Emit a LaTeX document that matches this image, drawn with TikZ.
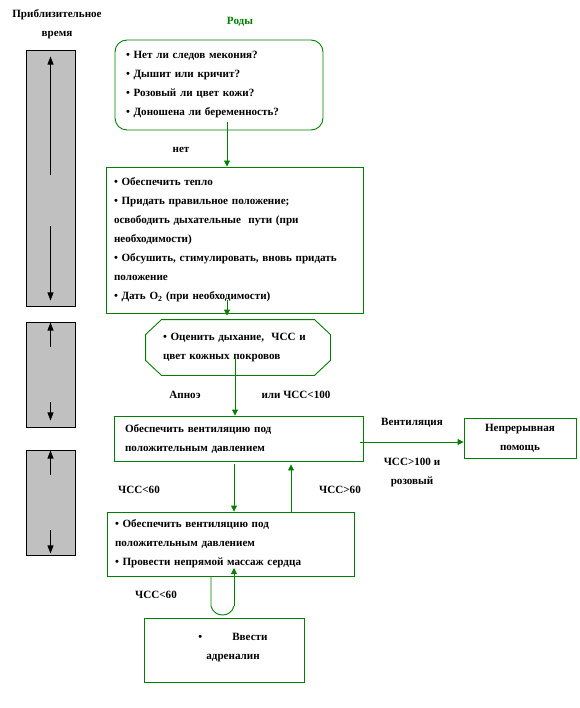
\documentclass[tikz,border=0pt]{standalone}
\usepackage{fontspec}
\setmainfont{Liberation Serif}
\usetikzlibrary{arrows.meta}
\definecolor{grn}{HTML}{008000}
\definecolor{barg}{HTML}{C0C0C0}
\tikzset{
  txt/.style={font=\bfseries\fontsize{11.1}{19}\selectfont, inner sep=0pt},
  gbox/.style={draw=grn, line width=0.9pt, inner sep=0pt, font=\bfseries\fontsize{11.1}{19}\selectfont},
  timebar/.style={draw=black, line width=0.9pt, fill=barg, inner sep=0pt, minimum width=49pt},
  arr/.style={draw=grn, line width=0.9pt, -{Triangle[width=6pt,length=6pt]}},
  plain/.style={draw=grn, line width=0.9pt},
  barr/.style={draw=black, line width=0.7pt, -{Triangle[width=6pt,length=8pt]}}
}
\begin{document}
\begin{tikzpicture}[x=1pt,y=-1pt]
\useasboundingbox (0,0) rectangle (579,708);
% time labels
\node[txt, align=center] (tlab) at (57,24) {Приблизительное\\время};
% time bars
\node[timebar, minimum height=256pt] (bar1) at (50.5,178) {};
\node[timebar, minimum height=105pt] (bar2) at (50.5,374.5) {};
\node[timebar, minimum height=105pt] (bar3) at (50.5,502.5) {};
\draw[barr] ([yshift=-125pt]bar1.north) -- ([yshift=-7pt]bar1.north);
\draw[barr] ([yshift=80pt]bar1.south) -- ([yshift=6pt]bar1.south);
\draw[barr] ([yshift=-25pt]bar2.north) -- ([yshift=-1pt]bar2.north);
\draw[barr] ([yshift=25pt]bar2.south) -- ([yshift=7pt]bar2.south);
\draw[barr] ([yshift=-25pt]bar3.north) -- ([yshift=-1pt]bar3.north);
\draw[barr] ([yshift=25pt]bar3.south) -- ([yshift=2pt]bar3.south);
% title
\node[txt, text=grn] (rody) at (240,22) {Роды};
% box1
\node[gbox, rounded corners=12pt, minimum width=208pt, minimum height=90pt,
      text width=186pt, align=left] (b1) at (219,85)
  {• Нет ли следов мекония?\\• Дышит или кричит?\\• Розовый ли цвет кожи?\\• Доношена ли беременность?};
\node[txt] (net) at (181,150) {нет};
% box2
\node[gbox, minimum width=257pt, minimum height=146pt,
      text width=241pt, align=left] (b2) at (234.5,240)
  {• Обеспечить тепло\\• Придать правильное положение;\\освободить дыхательные \ пути (при\\необходимости)\\• Обсушить, стимулировать, вновь придать\\положение\\• Дать O\textsubscript{2} (при необходимости)};
% octagon
\node[gbox, draw=none, minimum width=184pt, minimum height=55pt, text width=150pt, align=left] (oct) at (238,347.5)
  {• Оценить дыхание, \ ЧСС и\\цвет кожных покровов};
\draw[plain] ([xshift=16pt]oct.north west) -- ([xshift=-16pt]oct.north east)
  -- ([yshift=-15pt]oct.north east) -- ([yshift=15pt]oct.south east)
  -- ([xshift=-16pt]oct.south east) -- ([xshift=16pt]oct.south west)
  -- ([yshift=15pt]oct.south west) -- ([yshift=-15pt]oct.north west) -- cycle;
\node[txt] (apnoe) at (185,395) {Апноэ};
\node[txt] (ili) at (296,395) {или ЧСС<100};
% box3
\node[gbox, minimum width=249pt, minimum height=45pt, text width=227pt, align=left] (b3) at (238.5,438.5)
  {Обеспечить вентиляцию под\\положительным давлением};
% box4
\node[gbox, minimum width=112pt, minimum height=40pt, align=center] (b4) at (520,438)
  {Непрерывная\\помощь};
\node[txt] (vent) at (412,423) {Вентиляция};
\node[txt, align=center] (hr100) at (412,472) {ЧСС>100 и\\розовый};
% box5
\node[gbox, minimum width=247pt, minimum height=64pt, text width=231pt, align=left] (b5) at (230.5,544)
  {• Обеспечить вентиляцию под\\положительным давлением\\• Провести непрямой массаж сердца};
\node[txt] (hr60a) at (139,490) {ЧСС<60};
\node[txt] (hr60b) at (340,490) {ЧСС>60};
\node[txt] (hr60c) at (156,595) {ЧСС<60};
% box6
\node[gbox, minimum width=160pt, minimum height=64pt] (b6) at (224,650) {};
\node[txt, align=center] (b6t) at (233,648) {•\hspace{30pt}Ввести\\адреналин};
% connectors
\coordinate (c1) at (227,122);
\draw[arr] (c1) -- (c1 |- b2.north);
\coordinate (c2) at (227,300);
\draw[arr] (c2) -- ([yshift=4pt]c2 |- oct.north);
\coordinate (c3) at (235,357);
\draw[arr] (c3) -- (c3 |- b3.north);
\coordinate (c4) at (360,442);
\draw[arr] (c4) -- (c4 -| b4.west);
\coordinate (c5) at (234,464);
\draw[arr] (c5) -- (c5 |- b5.north);
\coordinate (c6) at (291,512);
\draw[arr] (c6) -- ([yshift=-3pt]c6 |- b3.south);
\coordinate (l1) at (211,576);
\coordinate (l2) at (211,606);
\coordinate (l3) at (234,606);
\coordinate (l4) at (234,568);
\draw[plain] (l1) -- (l2) .. controls (214,618) and (231,618) .. (l3);
\draw[arr] (l3) -- (l4);
\end{tikzpicture}
\end{document}
